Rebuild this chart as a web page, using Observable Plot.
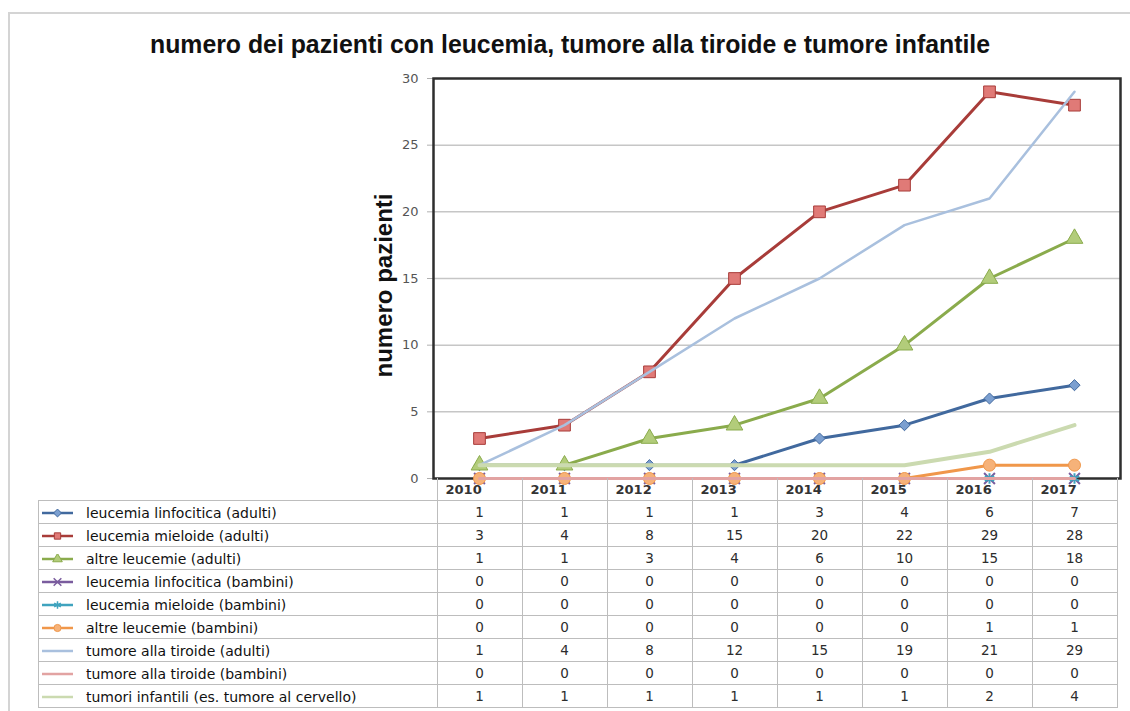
<!DOCTYPE html>
<html><head><meta charset="utf-8">
<script src="https://cdn.jsdelivr.net/npm/d3@7"></script>
<script src="https://cdn.jsdelivr.net/npm/@observablehq/plot@0.6"></script>
<style>
body{margin:0;background:#fff;}
#wrap{position:relative;width:1130px;height:711px;overflow:hidden;background:#fff;}
#border{position:absolute;left:8px;top:12px;width:1200px;height:800px;border-left:2px solid #d4d4d4;border-top:2px solid #d4d4d4;}
#title{position:absolute;top:30px;left:570px;font-family:"Liberation Sans Narrow","Liberation Sans",sans-serif;font-weight:bold;font-size:25px;color:#111;white-space:nowrap;}
#chart{position:absolute;left:0;top:0;}
#tbl{position:absolute;left:38px;top:478px;border-collapse:collapse;table-layout:fixed;font-family:"DejaVu Sans",sans-serif;}
#tbl td{padding:0;height:22px;border:1px solid #bdbdbd;white-space:nowrap;overflow:hidden;}
#tbl td.num{text-align:center;font-size:13.5px;color:#2c2c2c;}
#tbl td.lab{font-size:14px;color:#111;}
#tbl tr.head td{border-top:none;font-weight:bold;font-size:13px;color:#333;text-align:left;padding-left:8px;}
#tbl tr.head td.blank{border:none;border-bottom:1px solid #bdbdbd;}
.sw{display:inline-block;vertical-align:middle;margin-left:3px;margin-right:13px;}
</style></head>
<body>
<div id="wrap">
  <div id="border"></div>
  <div id="title">numero dei pazienti con leucemia, tumore alla tiroide e tumore infantile</div>
  <div id="chart"></div>
  <table id="tbl"></table>
</div>
<script>
const years = [2010, 2011, 2012, 2013, 2014, 2015, 2016, 2017];
const seriesNames = [
  "leucemia linfocitica (adulti)",
  "leucemia mieloide (adulti)",
  "altre leucemie (adulti)",
  "leucemia linfocitica (bambini)",
  "leucemia mieloide (bambini)",
  "altre leucemie (bambini)",
  "tumore alla tiroide (adulti)",
  "tumore alla tiroide (bambini)",
  "tumori infantili (es. tumore al cervello)"
];
const linfociticaAdulti  = [1, 1, 1, 1, 3, 4, 6, 7];
const mieloideAdulti     = [3, 4, 8, 15, 20, 22, 29, 28];
const altreAdulti        = [1, 1, 3, 4, 6, 10, 15, 18];
const linfociticaBambini = [0, 0, 0, 0, 0, 0, 0, 0];
const mieloideBambini    = [0, 0, 0, 0, 0, 0, 0, 0];
const altreBambini       = [0, 0, 0, 0, 0, 0, 1, 1];
const tiroideAdulti      = [1, 4, 8, 12, 15, 19, 21, 29];
const tiroideBambini     = [0, 0, 0, 0, 0, 0, 0, 0];
const tumoriInfantili    = [1, 1, 1, 1, 1, 1, 2, 4];
const yTicks = [0, 5, 10, 15, 20, 25, 30];
const gridValues = [5, 10, 15, 20, 25];
const yLabel = "numero pazienti";

const seriesValues = [linfociticaAdulti, mieloideAdulti, altreAdulti, linfociticaBambini,
  mieloideBambini, altreBambini, tiroideAdulti, tiroideBambini, tumoriInfantili];

// styles (separate from data)
const styles = [
  {stroke:"#41699e", fill:"#7b9fd0", symbol:"diamond2", r:5, sw:3},
  {stroke:"#a83c39", fill:"#e07a77", symbol:"square", r:6.6, sw:3},
  {stroke:"#8aab4c", fill:"#b2cc7a", symbol:"triangle", r:6.2, sw:3},
  {stroke:"#7a5c9e", fill:"none", symbol:"times", r:5, sw:3},
  {stroke:"#3fa3be", fill:"none", symbol:"asterisk", r:5, sw:3},
  {stroke:"#f0974a", fill:"#f6b279", symbol:"circle", r:6, sw:3},
  {stroke:"#a9c0de", fill:null, symbol:null, r:0, sw:2.5},
  {stroke:"#e2a3a2", fill:null, symbol:null, r:0, sw:3},
  {stroke:"#cbdab0", fill:null, symbol:null, r:0, sw:4}
];

const rows = [];
seriesNames.forEach((name, i) => {
  years.forEach((yr, j) => rows.push({series: name, idx: i, year: yr, value: seriesValues[i][j]}));
});

const marks = [
  Plot.ruleY(gridValues, {stroke:"#c6c6c6", strokeWidth:1.5}),
  Plot.axisY({ticks: yTicks, tickSize: 6, tickPadding: 9, stroke: "#b0b0b0", fill: "#555", fontSize: 13, label: null}),
  Plot.frame({stroke:"#2e2e2e", strokeWidth:2.5})
];
seriesNames.forEach((name, i) => {
  const st = styles[i];
  const d = rows.filter(r => r.idx === i);
  marks.push(Plot.line(d, {x:"year", y:"value", stroke: st.stroke, strokeWidth: st.sw, strokeLinejoin:"round"}));
  if (st.symbol) {
    const isStrokeSym = st.fill === "none";
    marks.push(Plot.dot(d, {x:"year", y:"value", symbol: st.symbol, r: st.r,
      fill: isStrokeSym ? "none" : st.fill, stroke: st.stroke, strokeWidth: isStrokeSym ? 2 : 1}));
  }
});
marks.push(Plot.text([yLabel], {frameAnchor:"left", textAnchor:"middle", dx:-49, dy:7, rotate:-90, fontSize:24, fontWeight:"bold", fontFamily:"Liberation Sans, sans-serif", fill:"#111"}));

const chart = Plot.plot({
  width: 1130, height: 492,
  marginTop: 78, marginBottom: 14, marginLeft: 433, marginRight: 10,
  style: {fontFamily: "DejaVu Sans, sans-serif", background: "transparent", overflow: "visible"},
  x: {type: "point", domain: years, padding: 0.5, axis: null},
  y: {domain: [0, 30], axis: null},
  marks
});
document.getElementById("chart").appendChild(chart);

// fit title width
const title = document.getElementById("title");
const tw = title.getBoundingClientRect().width;
title.style.transformOrigin = `${tw/2}px 0`;
title.style.transform = `translateX(${-tw/2}px) scaleX(${840 / tw})`;

// table
const xs = chart.scale("x");
const step = xs.apply(years[1]) - xs.apply(years[0]);
const labelW = xs.apply(years[0]) - step / 2 - 38;
const tbl = d3.select("#tbl");
const cg = tbl.append("colgroup");
cg.append("col").style("width", labelW + "px");
years.forEach(() => cg.append("col").style("width", step + "px"));
const head = tbl.append("tr").attr("class", "head");
head.append("td").attr("class", "blank");
years.forEach(y => head.append("td").text(y));
seriesNames.forEach((name, i) => {
  const tr = tbl.append("tr");
  const td = tr.append("td").attr("class", "lab");
  const st = styles[i];
  const svg = td.append("svg").attr("class", "sw").attr("width", 31).attr("height", 10);
  svg.append("line").attr("x1", 0).attr("x2", 31).attr("y1", 5).attr("y2", 5)
     .attr("stroke", st.stroke).attr("stroke-width", 2.5);
  if (st.symbol) {
    const symMap = {diamond2: d3.symbolDiamond2, square: d3.symbolSquare, triangle: d3.symbolTriangle,
      times: d3.symbolTimes, asterisk: d3.symbolAsterisk, circle: d3.symbolCircle};
    const isStrokeSym = st.fill === "none";
    svg.append("path").attr("transform", "translate(15.5,5)")
      .attr("d", d3.symbol(symMap[st.symbol], 40)())
      .attr("fill", isStrokeSym ? "none" : st.fill).attr("stroke", st.stroke).attr("stroke-width", isStrokeSym ? 1.5 : 1);
  }
  td.append("span").text(name).style("vertical-align", "middle");
  seriesValues[i].forEach(v => tr.append("td").attr("class", "num").text(v));
});
</script>
</body></html>
